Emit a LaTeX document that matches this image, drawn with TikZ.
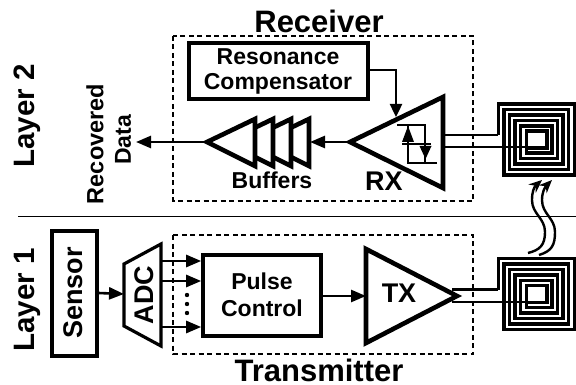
\documentclass[tikz,border=0pt]{standalone}
\usepackage{fontspec}
\setmainfont{Liberation Sans}
\usetikzlibrary{arrows.meta}
\newcommand{\fsz}[1]{\fontsize{#1}{#1}\selectfont\bfseries}
\tikzset{
  x=1pt,y=-1pt,
  label big/.style={inner sep=0pt,font=\fsz{31}},
  label layer/.style={inner sep=0pt,font=\fsz{29.5}},
  label mid/.style={inner sep=0pt,font=\fsz{23}},
  label amp/.style={inner sep=0pt,font=\fsz{27}},
  block/.style={draw,line width=3.4pt,inner sep=0pt,fill=white},
  region/.style={draw,line width=2.2pt,dash pattern=on 5pt off 3.5pt},
  amp/.style={draw,line width=4.6pt,fill=white,miter limit=10},
  wire/.style={line width=2.8pt},
  sig/.style={line width=2.6pt,-{Triangle[length=15pt,width=12pt]}},
  smallsig/.style={line width=2.4pt,-{Triangle[length=13pt,width=12pt]}},
  waveline/.style={line width=2.4pt,-{Stealth[length=13pt,width=11pt]}},
}
\newcommand{\coilshape}{%
  \draw[line width=3.9pt,line join=miter]
    (498.5,135)--(498.5,104)--(574.5,104)--(574.5,175)--(504,175)--(504,109.5)
    --(568.5,109.5)--(568.5,169.5)--(509.5,169.5)--(509.5,115)--(563,115)--(563,164)
    --(515,164)--(515,120.5)--(557.5,120.5)--(557.5,158.5)--(520.5,158.5)--(520.5,126)
    --(552,126)--(552,153)--(526.5,153)--(526.5,131)--(547,131)--(547,148)--(528,148);
}
\begin{document}
\begin{tikzpicture}
\useasboundingbox (0,0) rectangle (576,385);
% regions
\draw[region] (173,36) rectangle (473,201);
\draw[region] (173,235) rectangle (473,354);
\draw[line width=1pt] (18,216.5) -- (576,216.5);
% titles
\node[label big] (rxtitle) at (319,21.5) {Receiver};
\node[label big] (txtitle) at (319,370) {Transmitter};
\node[label layer,rotate=90] (l2) at (27,116) {Layer 2};
\node[label layer,rotate=90] (l1) at (27,300) {Layer 1};
\node[label mid,inner sep=0pt,font=\fsz{23.5},rotate=90] (rec) at (95,144) {Recovered};
\node[label mid,rotate=90] (dat) at (123,140) {Data};
% resonance compensator
\node[block,minimum width=179pt,minimum height=56pt] (comp) at (278.5,71) {};
\node[label mid] (comp1) at (278,57) {Resonance};
\node[label mid] (comp2) at (278,84) {Compensator};
% buffers
\coordinate (bufout) at (207,142);
\coordinate (bufin) at (310,142);
\draw[amp] (261,142)--(309,119)--(309,166)--cycle;
\draw[amp] (243,142)--(291,119)--(291,166)--cycle;
\draw[amp] (225,142)--(273,119)--(273,166)--cycle;
\draw[amp] (bufout)--(255,119)--(255,166)--cycle;
\node[label mid] (buflab) at (272,180) {Buffers};
% RX
\coordinate (rxtip) at (350,142);
\coordinate (rxt) at (396,117);
\draw[amp] (rxtip)--(443,97)--(443,188)--cycle;
\node[label amp] (rxlab) at (384,181) {RX};
% hysteresis
\coordinate (ha) at (397,125); \coordinate (hb) at (425,125);
\coordinate (hc) at (425,163); \coordinate (hd) at (437,163);
\coordinate (he) at (408,163); \coordinate (hf) at (408,126);
\draw[line width=2pt] (ha)--(hb)--(hc);
\draw[line width=2pt] (hd)--(he)--(hf);
\draw[line width=2pt] (402,144)--(431,144);
\fill (408,126)--(402,142)--(414,142)--cycle;
\fill (425.5,159)--(419.5,146)--(431.5,146)--cycle;
% arrows receiver
\draw[smallsig] (comp.east |- 0,70) -- (396,70) -- (rxt);
\draw[sig] (rxtip) -- (bufin);
\draw[sig] (bufout) -- (136,142);
% coils
\coilshape
\begin{scope}[shift={(0,154.5)}]
\coilshape
\end{scope}
\coordinate (rl1) at (445,135); \coordinate (rc1) at (498,135);
\coordinate (rl2) at (445,147); \coordinate (rc2) at (528,147);
\draw[wire] (rl1)--(rc1);
\draw[wire] (rl2)--(rc2);
\coordinate (tl1) at (452,289.5); \coordinate (tc1) at (498,289.5);
\coordinate (tl2) at (452,302); \coordinate (tc2) at (528,302);
% TX
\draw[wire] (tl1)--(tc1);
\draw[wire] (tl2)--(tc2);
\coordinate (txtip) at (457,296);
\coordinate (txin) at (366,296);
\draw[amp] (txtip)--(366,249)--(366,343)--cycle;
\node[label amp] (txlab) at (399,293) {TX};
% pulse control
\node[block,minimum width=118pt,minimum height=81pt,line width=3.6pt] (pc) at (262,295.5) {};
\node[label mid] (pc1) at (262,281) {Pulse};
\node[label mid] (pc2) at (262,308) {Control};
\draw[sig] (pc.east |- 0,296) -- (txin);
% sensor
\node[block,minimum width=45pt,minimum height=125pt] (sen) at (74.5,293.5) {};
\node[label amp,rotate=90] (senlab) at (73,293) {Sensor};
% ADC
\coordinate (adcl) at (124,294);
\draw[line width=3.2pt,fill=white] (124,264)--(161,244)--(161,346)--(124,326)--cycle;
\node[label amp,rotate=90] (adclab) at (144,295) {ADC};
\draw[sig] (sen.east |- 0,293) -- (adcl);
\draw[sig] (162,261) -- (pc.west |- 0,261);
\draw[sig] (162,281) -- (pc.west |- 0,281);
\draw[sig] (162,327) -- (pc.west |- 0,327);
\foreach \yy in {295,304,313} \fill (187,\yy) circle (2.2pt);
% wavy arrows
\draw[waveline] (528,253) .. controls (540,250) and (545,245) .. (545,232)
  .. controls (545,218) and (532,214) .. (532,200) .. controls (532,192) and (534,187) .. (542,180);
\draw[waveline] (539,255) .. controls (552,251) and (555,245) .. (555,232)
  .. controls (555,218) and (542,214) .. (542,200) .. controls (542,192) and (545,187) .. (552,180);
\end{tikzpicture}
\end{document}
